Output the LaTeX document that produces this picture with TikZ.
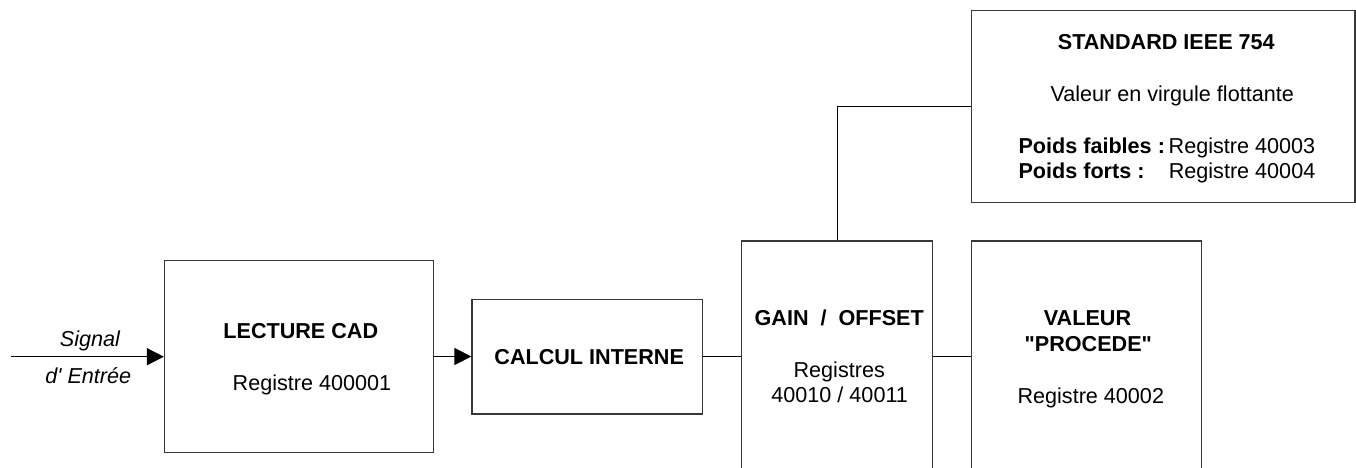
\documentclass[tikz,border=0pt]{standalone}
\usepackage{fontspec}
\setmainfont{Liberation Sans}
\usetikzlibrary{arrows.meta,calc}
\tikzset{
  box/.style={draw=black!78, line width=1.3pt, inner sep=0pt, fill=none},
  lbl/.style={inner sep=0pt, anchor=base, font=\fontsize{21.6}{25}\selectfont},
  blbl/.style={lbl, font=\fontsize{21.6}{25}\selectfont\bfseries},
  ilbl/.style={lbl, font=\fontsize{21.6}{25}\selectfont\itshape},
  conn/.style={draw=black, line width=1.4pt},
  arr/.style={conn, -{Triangle[length=17pt,width=17pt]}}
}
\begin{document}
\begin{tikzpicture}[x=1pt,y=-1pt]
\useasboundingbox (0,0) rectangle (1356,468);
\clip (0,0) rectangle (1356,468);
% boxes
\node[box, minimum width=269pt, minimum height=191.6pt] (lecture) at (299,356.5) {};
\node[box, minimum width=230.7pt, minimum height=114.7pt] (calcul) at (587.35,356.65) {};
\node[box, minimum width=191pt, minimum height=240pt] (gain) at (837.2,361) {};
\node[box, minimum width=230.4pt, minimum height=240pt] (valeur) at (1086.5,361) {};
\node[box, minimum width=383.7pt, minimum height=192.2pt] (ieee) at (1163.15,106.4) {};
% texts
\node[ilbl] (sig1) at (90,346) {Signal};
\node[ilbl] (sig2) at (88.3,383.3) {d\textquotesingle\ Entrée};
\node[blbl] (t1) at (300.8,338.3) {LECTURE CAD};
\node[lbl] (t2) at (312,390.7) {Registre 400001};
\node[blbl] (t3) at (589.2,364.3) {CALCUL INTERNE};
\node[blbl] (t4) at (839.2,325.7) {GAIN~~/~~OFFSET};
\node[lbl] (t5) at (839.2,377.3) {Registres};
\node[lbl] (t6) at (839.7,402.7) {40010 / 40011};
\node[blbl] (t7) at (1087.5,325.7) {VALEUR};
\node[blbl] (t8) at (1088.3,351.7) {\textquotedbl PROCEDE\textquotedbl};
\node[lbl] (t9) at (1090.8,403.3) {Registre 40002};
\node[blbl] (t10) at (1166.3,49.3) {STANDARD IEEE 754};
\node[lbl] (t11) at (1172.2,101.7) {Valeur en virgule flottante};
\node[blbl, anchor=base west] (t12) at (1018.3,153.3) {Poids faibles :};
\node[lbl, anchor=base west] (t13) at (1168.5,153.3) {Registre 40003};
\node[blbl, anchor=base west] (t14) at (1018.3,178.3) {Poids forts :};
\node[lbl, anchor=base east] (t15) at (1315.5,178.3) {Registre 40004};
% connectors
\coordinate (in) at (11,356.7);
\draw[arr] (in) -- (in -| lecture.west);
\draw[arr] (lecture.east) -- (lecture.east -| calcul.west);
\draw[conn] (calcul.east) -- (calcul.east -| gain.west);
\draw[conn] (calcul.east -| gain.east) -- (calcul.east -| valeur.west);
\draw[conn] (gain.north) |- (ieee.west);
\end{tikzpicture}
\end{document}
